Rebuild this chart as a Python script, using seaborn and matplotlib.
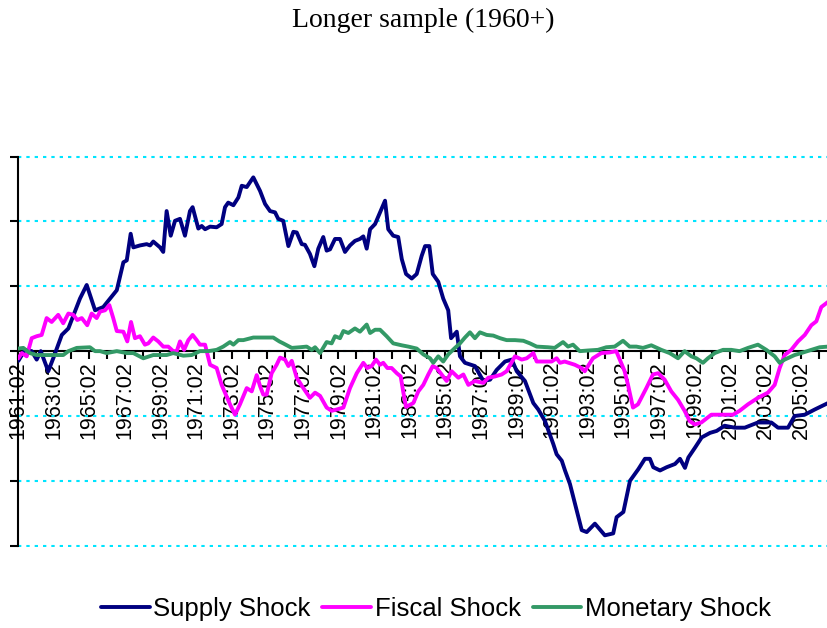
import numpy as np
import pandas as pd
import matplotlib
matplotlib.use("Agg")
import matplotlib.pyplot as plt
from matplotlib.lines import Line2D
import seaborn as sns

# ---------------- data (decimal year, shock value) ----------------
supply_t = [1961.27, 1961.64, 1962.02, 1962.30, 1962.53, 1962.95, 1963.23, 1963.71, 1964.08, 1964.73,
            1965.11, 1965.58, 1966.04, 1966.42, 1966.80, 1967.17, 1967.36, 1967.58, 1967.73, 1968.10,
            1968.48, 1968.67, 1968.85, 1969.23, 1969.41, 1969.60, 1969.83, 1970.07, 1970.35, 1970.63,
            1970.91, 1971.06, 1971.38, 1971.57, 1971.76, 1972.04, 1972.41, 1972.69, 1972.88, 1973.06,
            1973.35, 1973.63, 1973.82, 1974.10, 1974.47, 1974.85, 1975.13, 1975.41, 1975.69, 1975.87,
            1976.15, 1976.44, 1976.72, 1976.91, 1977.19, 1977.37, 1977.65, 1977.90, 1978.12, 1978.40,
            1978.59, 1978.78, 1979.06, 1979.34, 1979.62, 1979.90, 1980.18, 1980.46, 1980.65, 1980.84,
            1981.03, 1981.31, 1981.59, 1981.87, 1982.05, 1982.33, 1982.61, 1982.81, 1983.05, 1983.37,
            1983.65, 1983.93, 1984.12, 1984.36, 1984.55, 1984.86, 1985.14, 1985.42, 1985.58, 1985.90,
            1986.08, 1986.36, 1986.92, 1987.39, 1987.77, 1988.14, 1988.61, 1988.99, 1989.27, 1989.73,
            1990.20, 1990.48, 1990.86, 1991.32, 1991.51, 1991.80, 1991.98, 1992.26, 1992.92, 1993.20,
            1993.66, 1994.22, 1994.69, 1994.88, 1995.26, 1995.63, 1996.10, 1996.47, 1996.75, 1996.94,
            1997.32, 1997.69, 1998.16, 1998.44, 1998.72, 1998.91, 1999.28, 1999.66, 2000.13, 2000.50,
            2000.95, 2001.51, 2002.08, 2002.82, 2003.57, 2003.95, 2004.51, 2004.88, 2005.45, 2006.01,
            2006.76]
supply_v = [-0.15, 0.02, 0.00, -0.13, 0.00, -0.31, -0.11, 0.25, 0.35, 0.81,
            1.02, 0.63, 0.68, 0.81, 0.94, 1.37, 1.40, 1.81, 1.60, 1.63,
            1.65, 1.63, 1.69, 1.60, 1.53, 2.16, 1.78, 2.01, 2.04, 1.78,
            2.16, 2.22, 1.89, 1.93, 1.88, 1.92, 1.91, 1.96, 2.22, 2.29,
            2.25, 2.37, 2.55, 2.53, 2.68, 2.47, 2.27, 2.16, 2.14, 2.04,
            2.01, 1.62, 1.84, 1.83, 1.65, 1.64, 1.50, 1.31, 1.58, 1.76,
            1.55, 1.57, 1.73, 1.73, 1.53, 1.63, 1.70, 1.73, 1.77, 1.58,
            1.88, 1.96, 2.14, 2.32, 1.88, 1.78, 1.76, 1.42, 1.19, 1.12,
            1.19, 1.47, 1.62, 1.62, 1.19, 1.07, 0.81, 0.63, 0.20, 0.30,
            -0.08, -0.18, -0.23, -0.46, -0.44, -0.29, -0.16, -0.13, -0.31, -0.46,
            -0.80, -0.90, -1.08, -1.43, -1.59, -1.69, -1.84, -2.05, -2.76, -2.79,
            -2.66, -2.84, -2.81, -2.56, -2.48, -2.00, -1.82, -1.66, -1.66, -1.79,
            -1.84, -1.79, -1.74, -1.66, -1.80, -1.64, -1.49, -1.33, -1.26, -1.23,
            -1.15, -1.18, -1.18, -1.10, -1.10, -1.18, -1.18, -1.00, -0.98, -0.90,
            -0.80]

fiscal_t = [1961.27, 1961.46, 1961.74, 1962.02, 1962.30, 1962.58, 1962.86, 1963.14, 1963.51, 1963.79,
            1964.08, 1964.36, 1964.58, 1964.83, 1965.14, 1965.39, 1965.67, 1965.86, 1966.14, 1966.38,
            1966.60, 1966.80, 1967.17, 1967.39, 1967.60, 1967.82, 1968.10, 1968.38, 1968.57, 1968.85,
            1969.13, 1969.41, 1969.69, 1969.97, 1970.17, 1970.35, 1970.58, 1970.82, 1971.06, 1971.29,
            1971.47, 1971.76, 1972.04, 1972.41, 1972.69, 1973.16, 1973.44, 1973.72, 1974.10, 1974.38,
            1974.66, 1974.85, 1975.03, 1975.22, 1975.50, 1975.78, 1975.97, 1976.25, 1976.44, 1976.63,
            1976.91, 1977.28, 1977.65, 1977.94, 1978.22, 1978.59, 1978.87, 1979.15, 1979.53, 1979.90,
            1980.28, 1980.65, 1980.87, 1981.12, 1981.36, 1981.59, 1981.77, 1982.00, 1982.24, 1982.53,
            1982.75, 1982.90, 1983.05, 1983.46, 1983.74, 1984.02, 1984.30, 1984.55, 1984.77, 1985.05,
            1985.33, 1985.61, 1985.99, 1986.27, 1986.55, 1986.92, 1987.39, 1987.67, 1988.05, 1988.42,
            1988.70, 1989.17, 1989.55, 1989.83, 1990.20, 1990.39, 1990.86, 1991.23, 1991.51, 1991.70,
            1991.96, 1992.53, 1992.90, 1993.09, 1993.55, 1994.02, 1994.49, 1994.86, 1995.33, 1995.52,
            1995.80, 1996.08, 1996.55, 1996.92, 1997.21, 1997.58, 1997.95, 1998.33, 1998.70, 1998.99,
            1999.27, 1999.64, 2000.20, 2000.76, 2001.42, 2001.79, 2002.26, 2002.82, 2003.38, 2003.76,
            2004.04, 2004.32, 2004.69, 2005.07, 2005.45, 2005.82, 2006.10, 2006.38, 2006.76]
fiscal_v = [-0.11, -0.03, -0.08, 0.20, 0.23, 0.25, 0.51, 0.45, 0.56, 0.43,
            0.58, 0.56, 0.48, 0.51, 0.40, 0.58, 0.51, 0.61, 0.63, 0.71,
            0.51, 0.31, 0.30, 0.15, 0.45, 0.20, 0.23, 0.10, 0.12, 0.21,
            0.15, 0.07, 0.07, 0.00, 0.00, 0.15, 0.02, 0.17, 0.25, 0.17,
            0.10, 0.10, -0.21, -0.26, -0.52, -0.82, -0.98, -0.82, -0.57, -0.62,
            -0.37, -0.54, -0.67, -0.67, -0.34, -0.21, -0.10, -0.13, -0.23, -0.15,
            -0.41, -0.57, -0.72, -0.64, -0.69, -0.87, -0.92, -0.90, -0.87, -0.57,
            -0.34, -0.18, -0.26, -0.23, -0.13, -0.21, -0.18, -0.26, -0.26, -0.34,
            -0.39, -0.64, -0.86, -0.80, -0.62, -0.52, -0.36, -0.23, -0.26, -0.36,
            -0.46, -0.31, -0.41, -0.36, -0.52, -0.46, -0.49, -0.41, -0.39, -0.36,
            -0.31, -0.08, -0.13, -0.11, -0.03, -0.16, -0.16, -0.16, -0.11, -0.18,
            -0.16, -0.21, -0.26, -0.31, -0.11, -0.03, -0.02, 0.00, -0.31, -0.52,
            -0.87, -0.82, -0.57, -0.36, -0.34, -0.44, -0.62, -0.75, -0.92, -1.08,
            -1.13, -1.10, -0.98, -0.98, -0.98, -0.92, -0.82, -0.72, -0.64, -0.52,
            -0.26, -0.06, 0.02, 0.15, 0.25, 0.40, 0.46, 0.68, 0.76]

monetary_t = [1961.27, 1961.55, 1961.92, 1962.30, 1963.05, 1963.79, 1964.08, 1964.55, 1965.29, 1965.58,
              1965.86, 1966.23, 1966.80, 1967.36, 1967.73, 1968.29, 1968.85, 1969.60, 1969.97, 1970.54,
              1971.01, 1971.47, 1971.94, 1972.41, 1972.78, 1973.16, 1973.35, 1973.63, 1973.91, 1974.47,
              1975.22, 1975.59, 1975.93, 1976.15, 1976.63, 1977.09, 1977.47, 1977.75, 1977.94, 1978.22,
              1978.59, 1978.87, 1979.06, 1979.34, 1979.53, 1979.81, 1980.18, 1980.46, 1980.84, 1981.03,
              1981.31, 1981.59, 1981.96, 1982.33, 1982.81, 1983.18, 1983.65, 1984.02, 1984.40, 1984.58,
              1984.86, 1985.14, 1985.42, 1985.80, 1986.08, 1986.36, 1986.64, 1986.92, 1987.20, 1987.58,
              1987.95, 1988.33, 1988.70, 1989.17, 1989.64, 1990.01, 1990.39, 1991.03, 1991.40, 1991.87,
              1992.15, 1992.43, 1992.81, 1993.27, 1993.83, 1994.30, 1994.77, 1995.24, 1995.61, 1995.99,
              1996.36, 1996.83, 1997.39, 1997.86, 1998.33, 1998.70, 1999.08, 1999.36, 1999.73, 2000.01,
              2000.39, 2000.86, 2001.32, 2001.79, 2002.26, 2002.82, 2003.29, 2003.76, 2004.04, 2004.32,
              2004.88, 2005.25, 2005.82, 2006.29, 2006.76]
monetary_v = [0.04, 0.05, -0.03, -0.06, -0.06, -0.06, 0.00, 0.05, 0.06, 0.00,
              0.00, -0.03, 0.00, -0.03, -0.03, -0.11, -0.06, -0.06, -0.03, -0.07,
              -0.06, 0.00, 0.00, 0.02, 0.07, 0.14, 0.10, 0.17, 0.17, 0.21,
              0.21, 0.21, 0.15, 0.12, 0.05, 0.06, 0.07, 0.02, 0.06, -0.03,
              0.14, 0.12, 0.23, 0.20, 0.31, 0.28, 0.35, 0.30, 0.41, 0.28,
              0.33, 0.33, 0.23, 0.12, 0.09, 0.07, 0.04, -0.05, -0.11, -0.18,
              -0.08, -0.16, -0.05, 0.05, 0.12, 0.21, 0.29, 0.20, 0.29, 0.25,
              0.24, 0.20, 0.17, 0.17, 0.16, 0.12, 0.07, 0.06, 0.05, 0.14,
              0.07, 0.10, 0.00, 0.01, 0.02, 0.06, 0.07, 0.16, 0.07, 0.07,
              0.05, 0.09, 0.02, -0.03, -0.11, 0.00, -0.08, -0.11, -0.18, -0.11,
              -0.03, 0.02, 0.02, 0.00, 0.05, 0.10, 0.02, -0.08, -0.18, -0.13,
              -0.06, -0.03, 0.02, 0.06, 0.07]

series_names = ["Supply Shock", "Fiscal Shock", "Monetary Shock"]
series_colors = ["#000080", "#FF00FF", "#339966"]
label_years = list(range(1961, 2007))

# ---------------- build long-form table ----------------
frames = []
for name, t, v in zip(series_names, [supply_t, fiscal_t, monetary_t],
                      [supply_v, fiscal_v, monetary_v]):
    frames.append(pd.DataFrame({"t": t, "value": v, "series": name}))
df = pd.concat(frames, ignore_index=True)

# ---------------- figure ----------------
sns.set_style("white")
plt.rcParams["font.family"] = ["Liberation Sans", "DejaVu Sans"]
plt.rcParams["text.color"] = "black"
plt.rcParams["xtick.color"] = "black"
plt.rcParams["ytick.color"] = "black"

fig = plt.figure(figsize=(8.28, 6.28), dpi=100)
W, H = 828, 628
ax = fig.add_axes([18 / W, 1 - 547 / H, (828 - 18) / W, (547 - 154) / H])

sns.lineplot(data=df, x="t", y="value", hue="series", hue_order=series_names,
             palette=series_colors, sort=False, estimator=None, linewidth=2.8,
             ax=ax, legend=False, zorder=3)

ax.set_xlim(1961.25, 1961.25 + 810 / 17.8)
ax.set_ylim(-3.02, 3.04)

# y axis: ticks without labels, cyan dotted grid
ax.set_yticks(np.arange(-3, 4))
ax.set_yticklabels([])
ax.yaxis.grid(True, color="#00E5FF", linestyle=(0, (1.6, 2.4)), linewidth=1.5)
ax.xaxis.grid(False)
ax.tick_params(axis="y", which="major", direction="out", length=6, width=1.5,
               color="black", left=True)

# x axis crossing at zero
ax.spines["bottom"].set_position(("data", 0))
ax.spines["bottom"].set_linewidth(1.5)
ax.spines["bottom"].set_color("black")
ax.spines["bottom"].set_zorder(2.5)
ax.spines["left"].set_linewidth(1.5)
ax.spines["left"].set_color("black")
ax.spines["left"].set_bounds(-3, 3)
ax.spines["top"].set_visible(False)
ax.spines["right"].set_visible(False)

xt = [y + 0.25 for y in label_years]
xl = [f"{y}:02" if (y - 1961) % 2 == 0 else "" for y in label_years]
ax.set_xticks(xt)
ax.set_xticklabels(xl, rotation=90, fontsize=15.5, color="black")
ax.tick_params(axis="x", which="major", direction="out", length=6, width=1.5,
               color="black", bottom=True, pad=1)
ax.set_xlabel("")
ax.set_ylabel("")

# title
fig.text(423.5 / W, 1 - 20 / H, "Longer sample (1960+)", ha="center", va="center",
         fontsize=20, color="black", family=["Liberation Serif", "DejaVu Serif"])

# legend
handles = [Line2D([0], [0], color=c, lw=2.8) for c in series_colors]
leg = fig.legend(handles, series_names, loc="center", ncol=3,
                 bbox_to_anchor=(436 / W, 1 - 609 / H), frameon=False, fontsize=18.5,
                 handlelength=1.9, handletextpad=0.15, columnspacing=0.45)
for txt in leg.get_texts():
    txt.set_color("black")

fig.savefig("out.png", dpi=100)
